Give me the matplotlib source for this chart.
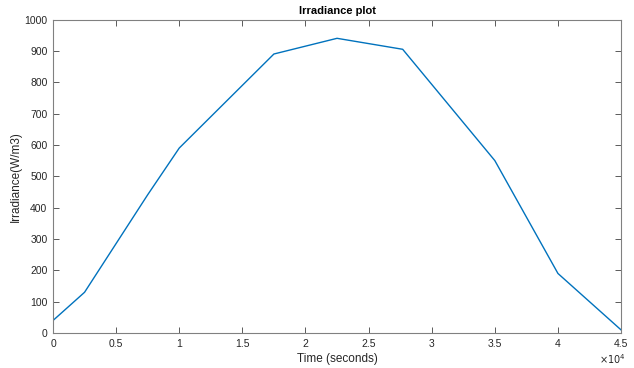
import matplotlib
matplotlib.use("Agg")
import matplotlib.pyplot as plt
from matplotlib.ticker import FuncFormatter

plt.rcParams['font.family'] = ['Liberation Sans', 'DejaVu Sans']

time_s = [0, 2500, 7500, 10000, 17500, 22500, 27700, 35000, 40000, 45000]
irradiance = [40, 130, 441, 590, 890, 940, 905, 550, 190, 10]

fig = plt.figure(figsize=(6.34, 3.68), dpi=100)
ax = fig.add_axes([0.0836, 0.095, 0.896, 0.852])
ax.plot(time_s, irradiance, color='#0072BD', lw=1.0)

ax.set_xlim(0, 45000)
ax.set_ylim(0, 1000)
ax.set_xticks([i * 5000 for i in range(10)])
ax.set_yticks(range(0, 1001, 100))
ax.xaxis.set_major_formatter(FuncFormatter(lambda v, p: '%g' % (v / 1e4)))

gray = '#808080'
for s in ax.spines.values():
    s.set_color(gray)
    s.set_linewidth(0.8)
ax.tick_params(direction='in', top=True, right=True, length=4, width=0.6,
               color='#404040', labelsize=7.5, labelcolor='#262626', pad=4)

ax.set_title('Irradiance plot', fontsize=8, fontweight='bold', color='#000000', pad=4)
ax.set_xlabel('Time (seconds)', fontsize=8.5, color='#262626', labelpad=3)
ax.set_ylabel('Irradiance(W/m3)', fontsize=8.5, color='#262626', labelpad=2)
ax.text(0.985, -0.06, r'$\times10^{4}$', transform=ax.transAxes, ha='center', va='top',
        fontsize=7, color='#262626')

fig.savefig('out.png', dpi=100)
